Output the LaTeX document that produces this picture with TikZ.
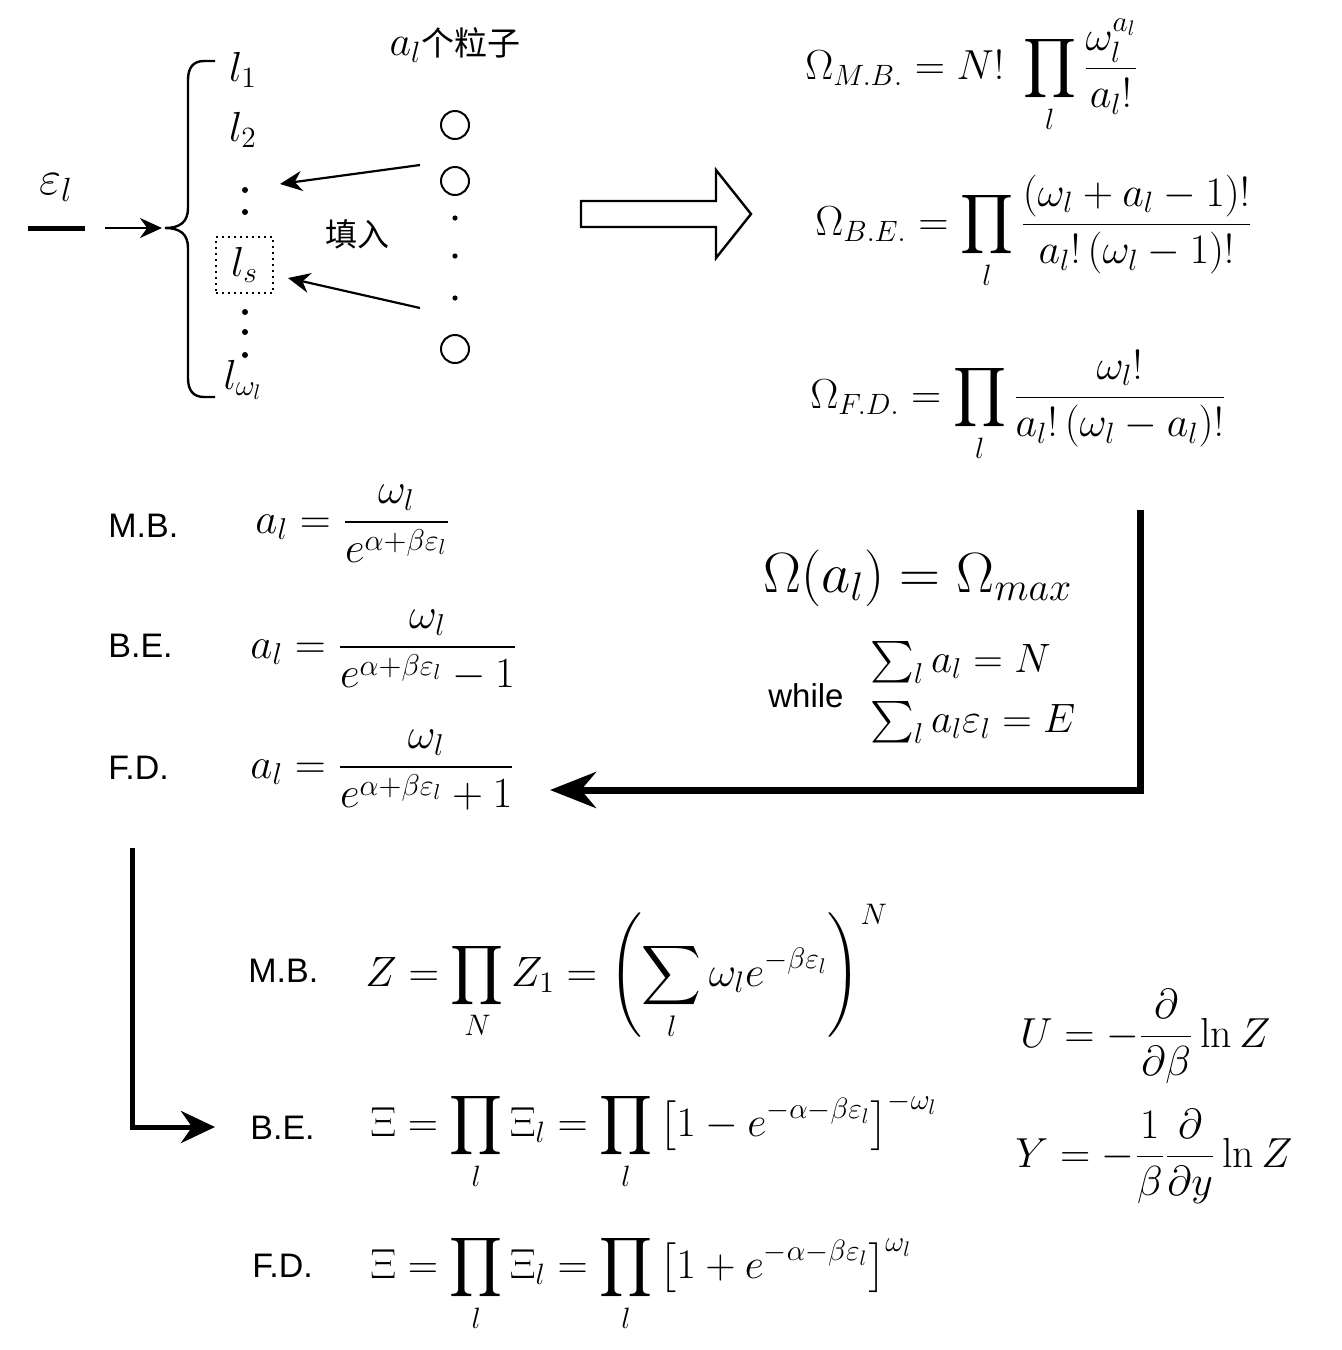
\RequirePackage{fix-cm}
\documentclass[tikz,border=0pt]{standalone}
\usepackage{amsmath}
\usepackage{fontspec}
\newfontfamily\cjk{Noto Sans CJK SC}
\newfontfamily\lab{Liberation Sans}
\usetikzlibrary{arrows.meta}
\begin{document}
\begin{tikzpicture}[x=0.5pt,y=-0.5pt,
  fm/.style={inner sep=0pt, anchor=base west},
  topf/.style={fm, font=\fontsize{21}{26}\selectfont},
  leftf/.style={fm, font=\fontsize{21.5}{26}\selectfont},
  botf/.style={fm, font=\fontsize{21}{25}\selectfont},
  labl/.style={inner sep=0pt, anchor=base west, font=\lab\fontsize{17}{20}\selectfont},
  lev/.style={font=\fontsize{21}{25}\selectfont, inner sep=0pt},
  part/.style={circle, draw, line width=1pt, minimum size=14pt, inner sep=0pt},
  thinarrow/.style={-{Stealth[length=11pt,width=10pt]}, line width=1.1pt}]
\useasboundingbox (0,0) rectangle (1342,1350);

% energy level
\node[font=\fontsize{24}{28}\selectfont, inner sep=0pt] (eps) at (56,188) {$\varepsilon_l$};
\coordinate (barL) at (28,228); \coordinate (barR) at (85,228);
\draw[line width=2.5pt] (barL) -- (barR);
\coordinate (arrS) at (105,228); \coordinate (brTip) at (162,228);
\draw[thinarrow] (arrS) -- (brTip);

% brace
\draw[line width=1.2pt] (215,61) -- (204,61) .. controls (193,61) and (188,68) .. (188,80) -- (188,208) .. controls (188,222) and (180,228) .. (165,228) .. controls (180,228) and (188,234) .. (188,248) -- (188,378) .. controls (188,390) and (193,397) .. (204,397) -- (215,397);

\node[lev] (l1) at (243,70) {$l_1$};
\node[lev] (l2) at (243,130) {$l_2$};
\node[lev, draw, dotted, line width=1pt, minimum width=28.5pt, minimum height=28pt] (ls) at (244.5,265) {$l_s$};
\node[lev] (lw) at (243,380) {$l_{\omega_l}$};
\foreach \y in {190,212,312,332,355} \fill (245,\y) circle[radius=1.5pt];

% particles
\node[font=\fontsize{16.5}{20}\selectfont] (al) at (455,45) {{\fontsize{21}{25}\selectfont$a_l$}{\cjk 个粒子}};
\node[part] (p1) at (455,125) {};
\node[part] (p2) at (455,181) {};
\node[part] (p3) at (455,349) {};
\foreach \y in {218,256,298} \fill (455,\y) circle[radius=1.3pt];
\coordinate (a1s) at (420,165); \coordinate (a1e) at (280,184);
\draw[thinarrow] (a1s) -- (a1e);
\coordinate (a2s) at (420,308); \coordinate (a2e) at (288,278);
\draw[thinarrow] (a2s) -- (a2e);
\node[font=\cjk\fontsize{16}{20}\selectfont] (fill) at (357,234) {填入};

% hollow arrow
\draw[line width=1.2pt] (581,201) -- (716,201) -- (716,170) -- (751,214) -- (716,258) -- (716,227) -- (581,227) -- cycle;

% Omega formulas
\node[topf] (omMB) at (805,79) {$\displaystyle \Omega_{M.B.} = N!\;\prod_l \frac{\omega_l^{a_l}}{a_l!}$};
\node[topf] (omBE) at (815,235) {$\displaystyle \Omega_{B.E.} = \prod_l \frac{(\omega_l + a_l - 1)!}{a_l!\,(\omega_l - 1)!}$};
\node[topf] (omFD) at (810,408) {$\displaystyle \Omega_{F.D.} = \prod_l \frac{\omega_l!}{a_l!\,(\omega_l - a_l)!}$};

% distributions
\node[labl] (mbL) at (108,537) {M.B.};
\node[leftf] (mbF) at (255,533) {$\displaystyle a_l = \frac{\omega_l}{e^{\alpha+\beta\varepsilon_l}}$};
\node[labl] (beL) at (108,657) {B.E.};
\node[leftf] (beF) at (250,658) {$\displaystyle a_l = \frac{\omega_l}{e^{\alpha+\beta\varepsilon_l}-1}$};
\node[labl] (fdL) at (108,779) {F.D.};
\node[leftf] (fdF) at (250,778) {$\displaystyle a_l = \frac{\omega_l}{e^{\alpha+\beta\varepsilon_l}+1}$};

% maximum condition
\node[fm, font=\fontsize{28.4}{33}\selectfont] (omax) at (763,592) {$\Omega(a_l) = \Omega_{max}$};
\node[labl, font=\lab\fontsize{16.5}{20}\selectfont] (while) at (768,707) {while};
\node[fm, font=\fontsize{20.5}{24}\selectfont] (s1) at (870,672) {$\textstyle\sum_l a_l = N$};
\node[fm, font=\fontsize{20.5}{24}\selectfont] (s2) at (870,732) {$\textstyle\sum_l a_l\varepsilon_l = E$};

\coordinate (k1) at (1140,510); \coordinate (k1e) at (550,790);
\draw[line width=3.5pt, -{Stealth[length=23pt,width=18pt]}] (k1) |- (k1e);
\coordinate (k2) at (132,848); \coordinate (k2e) at (215,1127);
\draw[line width=2.5pt, -{Stealth[length=17pt,width=16pt]}] (k2) |- (k2e);

% partition functions
\node[labl] (mbL2) at (248,982) {M.B.};
\node[fm, font=\fontsize{21.2}{26}\selectfont] (zMB) at (365,986) {$\displaystyle Z = \prod_N Z_1 = \left(\sum_l \omega_l e^{-\beta\varepsilon_l}\right)^{N}$};
\node[labl] (beL2) at (250,1139) {B.E.};
\node[botf] (zBE) at (370,1136) {$\displaystyle \Xi = \prod_l \Xi_l = \prod_l \left[1 - e^{-\alpha-\beta\varepsilon_l}\right]^{-\omega_l}$};
\node[labl] (fdL2) at (252,1277) {F.D.};
\node[botf] (zFD) at (370,1278) {$\displaystyle \Xi = \prod_l \Xi_l = \prod_l \left[1 + e^{-\alpha-\beta\varepsilon_l}\right]^{\omega_l}$};

\node[botf] (U) at (1020,1047) {$\displaystyle U = -\frac{\partial}{\partial\beta}\ln Z$};
\node[botf] (Y) at (1015,1167) {$\displaystyle Y = -\frac{1}{\beta}\frac{\partial}{\partial y}\ln Z$};
\end{tikzpicture}
\end{document}
